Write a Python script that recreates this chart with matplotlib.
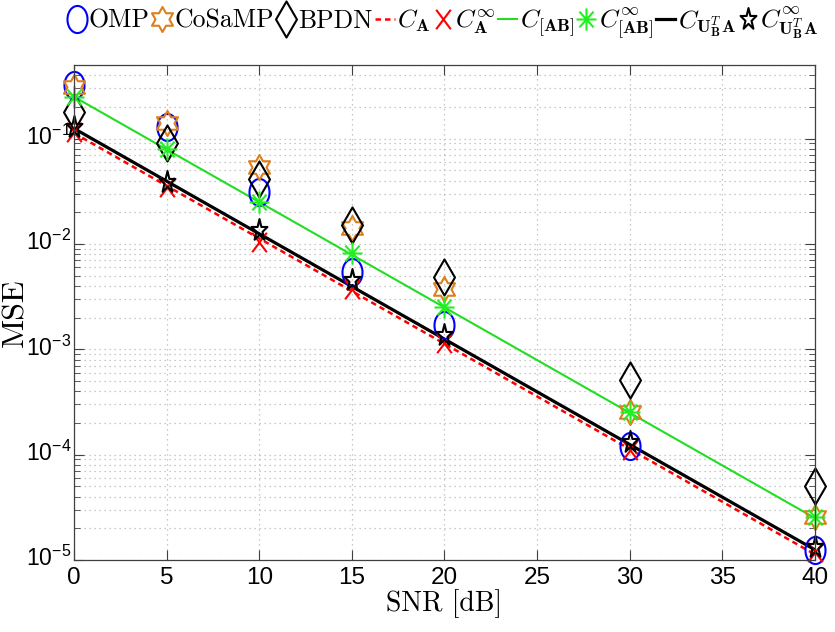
import numpy as np
import matplotlib
matplotlib.use("Agg")
import matplotlib.pyplot as plt
from matplotlib.path import Path
from matplotlib.transforms import ScaledTranslation
from matplotlib.font_manager import FontProperties, findfont
from matplotlib.ticker import FixedLocator, LogLocator, FuncFormatter, NullFormatter

# tick font: narrow sans if we have it
tick_font = "Liberation Sans Narrow"
try:
    findfont(FontProperties(family=tick_font), fallback_to_default=False)
except Exception:
    tick_font = "Liberation Sans"

plt.rcParams["mathtext.fontset"] = "custom"
plt.rcParams["mathtext.rm"] = tick_font
plt.rcParams["mathtext.it"] = tick_font + ":italic"
plt.rcParams["mathtext.bf"] = tick_font + ":bold"

# data
snr = [0, 5, 10, 15, 20, 30, 40]
omp = [0.32, 0.13, 0.031, 0.0054, 0.0017, 1.21e-4, 1.24e-5]
cosamp = [0.31, 0.141, 0.054, 0.0142, 0.0037, 2.54e-4, 2.56e-5]
bpdn = [0.18, 0.091, 0.041, 0.0152, 0.0049, 5.1e-4, 5.0e-5]
c_a = [0.113, 0.0357, 0.0113, 0.00357, 0.00113, 1.13e-4, 1.13e-5]
c_a_inf = [0.116, 0.035, 0.0105, 0.0037, 0.00115, 1.11e-4, 1.19e-5]
c_ab = [0.25, 0.079, 0.025, 0.0079, 0.0025, 2.5e-4, 2.5e-5]
c_ab_inf = [0.25, 0.080, 0.025, 0.0082, 0.0025, 2.54e-4, 2.56e-5]
c_uba = [0.125, 0.0395, 0.0125, 0.00395, 0.00125, 1.25e-4, 1.25e-5]
c_uba_inf = [0.13, 0.039, 0.0136, 0.0046, 0.00137, 1.32e-4, 1.33e-5]

xticks = [0, 5, 10, 15, 20, 25, 30, 35, 40]


# the reference is squeezed sideways, so the markers are too
def squeeze(verts, sx):
    v = np.array(verts, dtype=float)
    v[:, 0] *= sx
    return v


t = np.linspace(0, 2 * np.pi, 60)
m_ellipse = Path(squeeze(np.c_[np.cos(t), np.sin(t)], 0.74))
m_diamond = Path(squeeze([[0, 1], [1, 0], [0, -1], [-1, 0], [0, 1]], 0.58), closed=True)

ang = np.pi / 2 + np.arange(12) * np.pi / 6
rad = np.where(np.arange(12) % 2 == 0, 1.0, 0.577)
hexv = np.c_[rad * np.cos(ang), rad * np.sin(ang)]
m_hexagram = Path(squeeze(np.vstack([hexv, hexv[:1]]), 0.97), closed=True)

ang5 = np.pi / 2 + np.arange(10) * np.pi / 5
rad5 = np.where(np.arange(10) % 2 == 0, 1.0, 0.382)
penv = np.c_[rad5 * np.cos(ang5), rad5 * np.sin(ang5)]
m_pentagram = Path(squeeze(np.vstack([penv, penv[:1]]), 0.73), closed=True)

astv, astc = [], []
for a in np.arange(4) * np.pi / 4:
    astv += [[np.cos(a), np.sin(a)], [-np.cos(a), -np.sin(a)]]
    astc += [Path.MOVETO, Path.LINETO]
m_asterisk = Path(squeeze(astv, 0.9), astc)
m_cross = Path(squeeze([[-1, -1], [1, 1], [-1, 1], [1, -1]], 0.75),
               [Path.MOVETO, Path.LINETO, Path.MOVETO, Path.LINETO])

orange = "#dd7f1a"

fig = plt.figure(figsize=(8.35, 6.32), dpi=100)
ax = fig.add_axes([0.0886, 0.1139, 0.8874, 0.7832])

ax.plot(snr, c_a, color="red", lw=1.8, dashes=(2.2, 1.6), label=r"$C_{\mathbf{A}}$")
ax.plot(snr, c_ab, color="#22dd22", lw=1.5, label=r"$C_{[\mathbf{AB}]}$")
ax.plot(snr, c_uba, color="black", lw=2.3, label=r"$C_{\mathbf{U}_{\mathbf{B}}^{T}\mathbf{A}}$")

mk = dict(ls="none", mew=1.5, mfc="none", clip_on=False)
ax.plot(snr, omp, marker=m_ellipse, ms=19.5, mec="blue", label="OMP", **mk)
ax.plot(snr, cosamp, marker=m_hexagram, ms=18, mec=orange, label="CoSaMP", **mk)
ax.plot(snr, bpdn, marker=m_diamond, ms=26, mec="black", label="BPDN", **mk)
ax.plot(snr, c_a_inf, marker=m_cross, ms=14, mec="red", label=r"$C^{\infty}_{\mathbf{A}}$", **mk)
ax.plot(snr, c_ab_inf, marker=m_asterisk, ms=16, mec="#22ee22", label=r"$C^{\infty}_{[\mathbf{AB}]}$", **mk)
ax.plot(snr, c_uba_inf, marker=m_pentagram, ms=16.5, mec="black",
        label=r"$C^{\infty}_{\mathbf{U}_{\mathbf{B}}^{T}\mathbf{A}}$", **mk)

ax.set_yscale("log")
ax.set_xlim(0, 40)
ax.set_ylim(1e-5, 0.5)
ax.xaxis.set_major_locator(FixedLocator(xticks))
ax.yaxis.set_major_locator(LogLocator(base=10, numticks=10))
ax.yaxis.set_minor_locator(LogLocator(base=10, subs=np.arange(2, 10), numticks=10))
ax.yaxis.set_minor_formatter(NullFormatter())
ax.yaxis.set_major_formatter(FuncFormatter(lambda v, p: r"$10^{%d}$" % round(np.log10(v))))

grid_ls = (0, (1, 3))
ax.grid(True, which="major", axis="x", ls=grid_ls, color="#b8b8b8", lw=0.9)
ax.grid(True, which="both", axis="y", ls=grid_ls, color="#b8b8b8", lw=0.9)
ax.tick_params(which="both", direction="in", top=True, right=True, color="#404040")
ax.tick_params(which="major", length=7)
ax.tick_params(axis="x", which="major", labelsize=17.5, pad=5)
ax.tick_params(axis="y", which="major", labelsize=16.5, pad=2)
ax.tick_params(which="minor", length=4)
for lab in ax.get_xticklabels():
    lab.set_fontfamily(tick_font)
for s in ax.spines.values():
    s.set_color("#404040")
    s.set_linewidth(0.9)

# nudge the y tick labels up a little, like the reference
lift = ScaledTranslation(0, 4 / 100, fig.dpi_scale_trans)
for tk in ax.yaxis.get_major_ticks():
    tk.label1.set_transform(tk.label1.get_transform() + lift)

cm_font = FontProperties(family="cmr10", math_fontfamily="cm")
ax.set_xlabel("SNR [dB]", fontproperties=cm_font, fontsize=20, labelpad=0)
ax.set_ylabel("MSE", fontproperties=cm_font, fontsize=23)
ax.yaxis.set_label_coords(-0.06, 0.5)

h, l = ax.get_legend_handles_labels()
hh = [h[3], h[4], h[5], h[0], h[6], h[1], h[7], h[2], h[8]]
ll = [l[3], l[4], l[5], l[0], l[6], l[1], l[7], l[2], l[8]]
leg_font = FontProperties(family="cmr10", size=18.5, math_fontfamily="cm")
fig.legend(hh, ll, loc="center", bbox_to_anchor=(0.53, 0.963), ncol=9, frameon=False,
           prop=leg_font, handlelength=0.75, handletextpad=0.1, columnspacing=0.1,
           borderpad=0, borderaxespad=0)

fig.savefig("out.png", dpi=100)
